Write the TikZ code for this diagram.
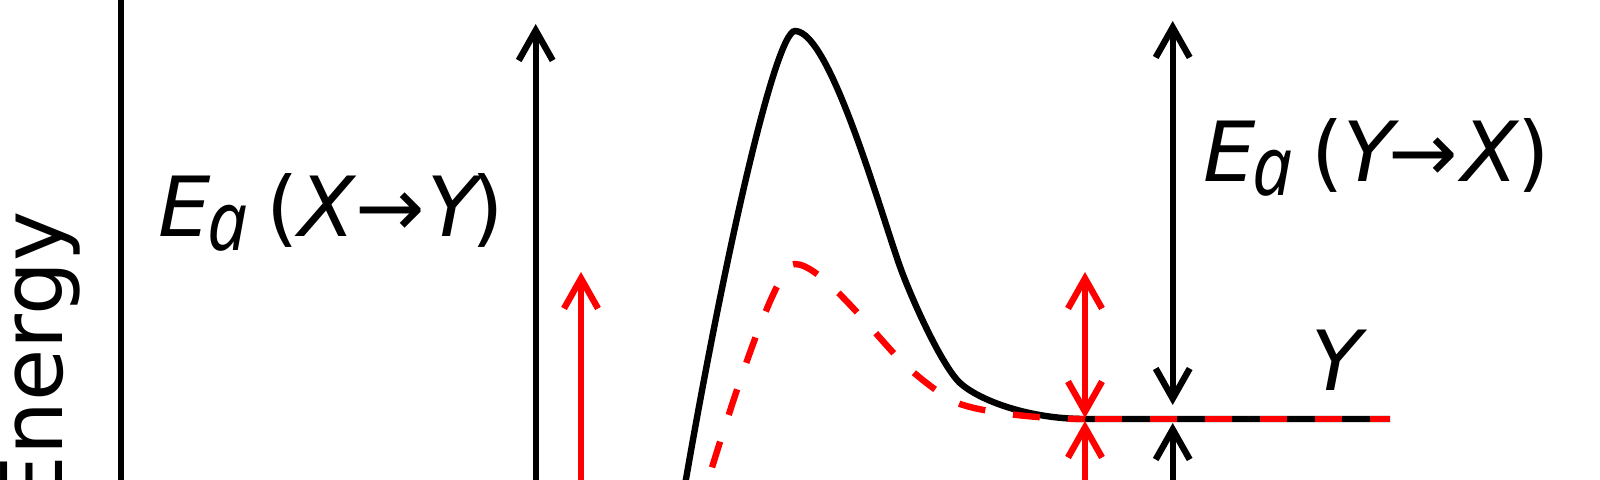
\documentclass[tikz,border=0pt]{standalone}
\usepackage{graphicx}
\usepackage{fontspec}
\setmainfont{DejaVu Sans}
\newfontfamily\italfont{Noto Sans}
\usetikzlibrary{arrows.meta}
\definecolor{pred}{RGB}{255,0,0}
\newcommand{\subA}{\raisebox{-7pt}{\scalebox{0.85}[1]{\italfont\itshape a}}}
\begin{document}
\begin{tikzpicture}[x=0.5pt,y=-0.5pt,line width=3.2pt,
  lbl/.style={inner sep=0pt,outer sep=0pt,font=\fontsize{41.5pt}{50pt}\selectfont},
  axlbl/.style={inner sep=0pt,outer sep=0pt,font=\fontsize{42.5pt}{50pt}\selectfont},
  tipup/.style={-{Straight Barb[length=15pt,width=17pt]}},
  tipboth/.style={{Straight Barb[length=15pt,width=17pt]}-{Straight Barb[length=15pt,width=17pt]}},
  redline/.style={draw=pred},
  redcurve/.style={draw=pred,dash pattern=on 13.5pt off 14pt,line cap=butt}]
\useasboundingbox (0,0) rectangle (1600,480);
\clip (0,0) rectangle (1600,480);
% axis
\coordinate (axb) at (121,520);
\coordinate (axt) at (121,-20);
\draw (axb) -- (axt);
\node[axlbl,rotate=90,anchor=base west] (energy) at (62,509) {Energy};
% labels
\node[lbl,anchor=base west] (eaxy) at (158,237)
  {\textit{E}\kern-1.5pt\subA\hspace{9.5pt}(\textit{X}\kern-1pt→\kern1.5pt\textit{Y}\kern-6pt)};
\node[lbl,anchor=base west] (eayx) at (1203,182)
  {\textit{E}\kern-1.5pt\subA\hspace{9.5pt}(\textit{Y}\kern-6pt→\kern2pt\textit{X}\kern-1pt)};
\node[lbl,anchor=base west] (ylab) at (1311,391) {\textit{Y}};
% black curve
\coordinate (bs) at (679,520);
\coordinate (bp) at (795,31);
\coordinate (bm) at (900,266.7);
\coordinate (bn) at (960,383);
\coordinate (be) at (1085,419);
\coordinate (le) at (1390,419);
\draw (bs) .. controls (721,270) and (775,31) .. (bp)
      .. controls (830,31) and (880,210.7) .. (bm)
      .. controls (912,300) and (942,366) .. (bn)
      .. controls (980,401) and (1030,419) .. (be) -- (le);
% red dashed curve
\coordinate (rs) at (696,520);
\coordinate (rp) at (795,264);
\coordinate (rm) at (900,360);
\coordinate (rn) at (960,404);
\draw[redcurve] (rs) .. controls (726,420) and (775,264) .. (rp)
      .. controls (820,264) and (870,328.5) .. (rm)
      .. controls (915,375) and (945,398.75) .. (rn)
      .. controls (985,412.75) and (1040,419) .. (be);
\draw[redcurve,dash phase=22.5pt] (be) -- (le);
% arrows
\coordinate (a1b) at (535.7,520);
\coordinate (a1t) at (535.7,24);
\draw[tipup] (a1b) -- (a1t);
\coordinate (r1b) at (581,520);
\coordinate (r1t) at (581,272);
\draw[tipup,redline] (r1b) -- (r1t);
\coordinate (r2t) at (1085,272);
\coordinate (r2b) at (1085,418);
\draw[tipboth,redline] (r2b) -- (r2t);
\coordinate (r3b) at (1085,520);
\coordinate (r3t) at (1085,421);
\draw[tipup,redline] (r3b) -- (r3t);
\coordinate (b2t) at (1172.7,21);
\coordinate (b2b) at (1172.7,405);
\draw[tipboth] (b2b) -- (b2t);
\coordinate (b3b) at (1172.7,520);
\coordinate (b3t) at (1172.7,423);
\draw[tipup] (b3b) -- (b3t);
\end{tikzpicture}
\end{document}
